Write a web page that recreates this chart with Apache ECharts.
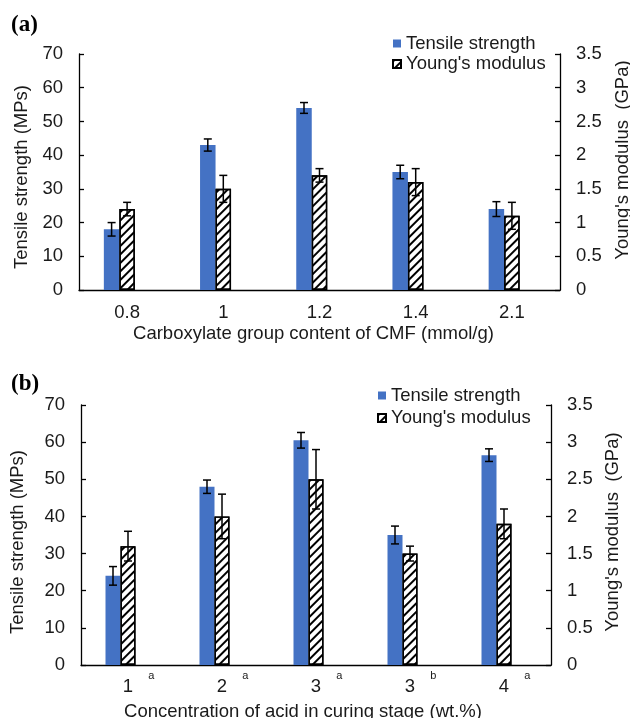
<!DOCTYPE html>
<html>
<head>
<meta charset="utf-8">
<script src="https://cdn.jsdelivr.net/npm/echarts@6/dist/echarts.min.js"></script>
<style>
html,body{margin:0;padding:0;background:#fff;}
#chart{width:630px;height:718px;}
</style>
</head>
<body>
<div id="chart"></div>
<script>
// ---- Panel (a) data ----
const catsA = ['0.8', '1', '1.2', '1.4', '2.1'];
const tensileA = [18, 43, 54, 35, 24];
const tensileErrA = [2, 1.8, 1.6, 2, 2.2];
const youngA = [1.2, 1.5, 1.7, 1.6, 1.1];
const youngErrA = [0.1, 0.2, 0.1, 0.2, 0.2];

// ---- Panel (b) data ----
const catsB = ['1', '2', '3', '3', '4'];
const supB = ['a', 'a', 'a', 'b', 'a'];
const tensileB = [24, 48, 60.5, 35, 56.5];
const tensileErrB = [2.5, 1.8, 2.1, 2.4, 1.7];
const youngB = [1.6, 2.0, 2.5, 1.5, 1.9];
const youngErrB = [0.2, 0.3, 0.4, 0.1, 0.2];

// ---- tick settings ----
const leftTicks = {min: 0, max: 70, interval: 10};
const rightTicks = {min: 0, max: 3.5, interval: 0.5};

const FONT = 'Liberation Sans, Arial, sans-serif';
const FS = 18.5;
const TXT = '#1a1a1a';
const BLUE = '#4472C4';
const BAR_A = 15.5, BAR_B = 15;

const hatchStyle = {
  color: '#ffffff',
  borderColor: '#000',
  borderWidth: 1.4,
  decal: {
    symbol: 'rect', symbolSize: 1,
    dashArrayX: [1, 0], dashArrayY: [2, 4],
    rotation: -Math.PI / 4, color: '#000'
  }
};

function errData(vals, errs) {
  return vals.map((v, i) => [i, v, errs[i]]);
}
function errRender(offsetBars, barW) {
  return function (params, api) {
    const x = api.value(0), y = api.value(1), e = api.value(2);
    const hi = api.coord([x, y + e]);
    const lo = api.coord([x, y - e]);
    const cx = hi[0] + offsetBars * barW;
    const cap = 8;
    const st = {stroke: '#000', lineWidth: 1.5};
    return {type: 'group', children: [
      {type: 'line', shape: {x1: cx, y1: hi[1], x2: cx, y2: lo[1]}, style: st},
      {type: 'line', shape: {x1: cx - cap / 2, y1: hi[1], x2: cx + cap / 2, y2: hi[1]}, style: st},
      {type: 'line', shape: {x1: cx - cap / 2, y1: lo[1], x2: cx + cap / 2, y2: lo[1]}, style: st}
    ]};
  };
}

function yAxisDef(grid, side, ticks, name, gap, pad) {
  return Object.assign({
    gridIndex: grid, type: 'value', position: side,
    axisLine: {show: true, lineStyle: {color: '#000', width: 1.3}},
    axisTick: {show: true, inside: true, length: 5, lineStyle: {color: '#000', width: 1.3}},
    splitLine: {show: false},
    axisLabel: {fontSize: FS, color: TXT, margin: 16, fontFamily: FONT},
    name: name, nameLocation: 'middle', nameGap: gap,
    nameTextStyle: {fontSize: FS, color: TXT, fontFamily: FONT, padding: pad || 0}
  }, ticks);
}

const chart = echarts.init(document.getElementById('chart'), null, {renderer: 'canvas'});
const option = {
  backgroundColor: '#fff',
  animation: false,
  title: [
    {text: '(a)', left: 11, top: 14, padding: 0, textStyle: {fontFamily: 'Liberation Serif, Times New Roman, serif', fontWeight: 'bold', fontSize: 23, color: '#000'}},
    {text: '(b)', left: 11, top: 373, padding: 0, textStyle: {fontFamily: 'Liberation Serif, Times New Roman, serif', fontWeight: 'bold', fontSize: 23, color: '#000'}}
  ],
  legend: [
    {data: ['Tensile strength', "Young's modulus"], orient: 'vertical', left: 392, top: 34, padding: 0,
     itemWidth: 8, itemHeight: 8, itemGap: 1.5, icon: 'rect',
     textStyle: {fontSize: FS, color: TXT, fontFamily: FONT}},
    {data: ['Tensile strength', "Young's modulus"], orient: 'vertical', left: 377, top: 386, padding: 0,
     itemWidth: 8, itemHeight: 8, itemGap: 3.5, icon: 'rect',
     textStyle: {fontSize: FS, color: TXT, fontFamily: FONT}}
  ],
  grid: [
    {left: 79, top: 54, width: 481, height: 236, outerBoundsMode: 'none', containLabel: false},
    {left: 81, top: 405, width: 470, height: 260, outerBoundsMode: 'none', containLabel: false}
  ],
  xAxis: [
    {gridIndex: 0, type: 'category', data: catsA,
     axisLine: {lineStyle: {color: '#000', width: 1.3}}, axisTick: {show: false},
     axisLabel: {fontSize: FS, color: TXT, margin: 13, fontFamily: FONT, interval: 0},
     name: 'Carboxylate group content of CMF (mmol/g)', nameLocation: 'middle', nameGap: 34,
     nameTextStyle: {fontSize: FS, color: TXT, fontFamily: FONT, padding: [0, 12, 0, 0]}},
    {gridIndex: 1, type: 'category', data: catsB,
     axisLine: {lineStyle: {color: '#000', width: 1.3}}, axisTick: {show: false},
     axisLabel: {margin: 5, fontFamily: FONT, color: TXT, interval: 0,
       formatter: function (v, i) { return '{p| }{v|' + catsB[i] + '}{g| }{s|' + supB[i] + '}'; },
       rich: {
         p: {width: 21.25, fontSize: 11, lineHeight: 11, verticalAlign: 'top'},
         v: {fontSize: FS, lineHeight: 34.4, color: TXT, fontFamily: FONT},
         g: {width: 15.25, fontSize: 11, lineHeight: 11, verticalAlign: 'top'},
         s: {fontSize: 11, lineHeight: 11, width: 6, verticalAlign: 'top', color: TXT, fontFamily: FONT}
       }},
     name: 'Concentration of acid in curing stage (wt.%)', nameLocation: 'middle', nameGap: 37,
     nameTextStyle: {fontSize: FS, color: TXT, fontFamily: FONT, padding: [0, 26, 0, 0]}}
  ],
  yAxis: [
    yAxisDef(0, 'left', leftTicks, 'Tensile strength (MPs)', 48, [0, 10, 0, 0]),
    yAxisDef(0, 'right', rightTicks, "Young's modulus  (GPa)", 53, [0, 0, 0, 24]),
    yAxisDef(1, 'left', leftTicks, 'Tensile strength (MPs)', 54, [0, 14, 0, 0]),
    yAxisDef(1, 'right', rightTicks, "Young's modulus  (GPa)", 52, [0, 0, 0, 6])
  ],
  series: [
    {name: 'Tensile strength', type: 'bar', xAxisIndex: 0, yAxisIndex: 0, data: tensileA,
     barWidth: BAR_A, barGap: '0%', itemStyle: {color: BLUE}},
    {name: "Young's modulus", type: 'bar', xAxisIndex: 0, yAxisIndex: 1, data: youngA,
     barWidth: BAR_A, barGap: '0%', itemStyle: hatchStyle},
    {name: 'spacer', type: 'bar', xAxisIndex: 0, yAxisIndex: 0, data: [], barWidth: BAR_A, barGap: '0%', silent: true},
    {type: 'custom', xAxisIndex: 0, yAxisIndex: 0, data: errData(tensileA, tensileErrA), renderItem: errRender(-1, BAR_A), z: 10, silent: true},
    {type: 'custom', xAxisIndex: 0, yAxisIndex: 1, data: errData(youngA, youngErrA), renderItem: errRender(0, BAR_A), z: 10, silent: true},

    {name: 'Tensile strength', type: 'bar', xAxisIndex: 1, yAxisIndex: 2, data: tensileB,
     barWidth: BAR_B, barGap: '0%', itemStyle: {color: BLUE}},
    {name: "Young's modulus", type: 'bar', xAxisIndex: 1, yAxisIndex: 3, data: youngB,
     barWidth: BAR_B, barGap: '0%', itemStyle: hatchStyle},
    {name: 'spacer', type: 'bar', xAxisIndex: 1, yAxisIndex: 2, data: [], barWidth: BAR_B, barGap: '0%', silent: true},
    {type: 'custom', xAxisIndex: 1, yAxisIndex: 2, data: errData(tensileB, tensileErrB), renderItem: errRender(-1, BAR_B), z: 10, silent: true},
    {type: 'custom', xAxisIndex: 1, yAxisIndex: 3, data: errData(youngB, youngErrB), renderItem: errRender(0, BAR_B), z: 10, silent: true}
  ]
};
chart.setOption(option);
</script>
</body>
</html>
